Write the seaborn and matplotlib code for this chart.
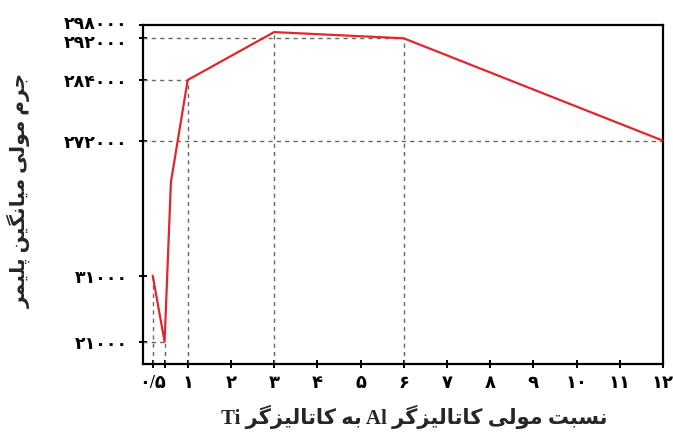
import numpy as np
import matplotlib
matplotlib.use('Agg')
import matplotlib.pyplot as plt
import matplotlib.transforms as mtransforms
import seaborn as sns

# data (Al/Ti ratio vs. average molar mass)
ratio = [0.5, 0.67, 0.76, 1, 3, 6, 12]
mass = [31000, 21000, 198000, 284000, 294800, 292000, 272000]

x_ticks = [0.5, 0.67, 1, 2, 3, 4, 5, 6, 7, 8, 9, 10, 11, 12]
x_tick_labels = ['۰/۵', '', '۱', '۲', '۳', '۴', '۵', '۶', '۷', '۸', '۹', '۱۰', '۱۱', '۱۲']
y_ticks = [21000, 31000, 272000, 284000, 292000, 298000]
y_tick_labels = ['۲۱۰۰۰', '۳۱۰۰۰', '۲۷۲۰۰۰', '۲۸۴۰۰۰', '۲۹۲۰۰۰', '۲۹۸۰۰۰']
# small vertical nudges of the crowded top labels (pixels, + is up)
y_label_nudge = [0, 0, 0, 0, -3, 3]

# which points get a dashed guide down to the x axis / across to the y axis
v_guides = [0, 1, 3, 4, 5]
h_guides = [1, 3, 5, 6]

x_label_words = ['نسبت', 'مولی', 'کاتالیزگر', 'Al', 'به', 'کاتالیزگر', 'Ti']
y_label_words = ['جرم', 'مولی', 'میانگین', 'پلیمر']

# arabic presentation forms: isolated, final, initial, medial
FORMS = {
    'ا': ('\ufe8d', '\ufe8e', None, None),
    'ب': ('\ufe8f', '\ufe90', '\ufe91', '\ufe92'),
    'پ': ('\ufb56', '\ufb57', '\ufb58', '\ufb59'),
    'ت': ('\ufe95', '\ufe96', '\ufe97', '\ufe98'),
    'ج': ('\ufe9d', '\ufe9e', '\ufe9f', '\ufea0'),
    'ر': ('\ufead', '\ufeae', None, None),
    'ز': ('\ufeaf', '\ufeb0', None, None),
    'س': ('\ufeb1', '\ufeb2', '\ufeb3', '\ufeb4'),
    'ک': ('\ufb8e', '\ufb8f', '\ufb90', '\ufb91'),
    'گ': ('\ufb92', '\ufb93', '\ufb94', '\ufb95'),
    'ل': ('\ufedd', '\ufede', '\ufedf', '\ufee0'),
    'م': ('\ufee1', '\ufee2', '\ufee3', '\ufee4'),
    'ن': ('\ufee5', '\ufee6', '\ufee7', '\ufee8'),
    'ه': ('\ufee9', '\ufeea', '\ufeeb', '\ufeec'),
    'و': ('\ufeed', '\ufeee', None, None),
    'ی': ('\ufbfc', '\ufbfd', '\ufbfe', '\ufbff'),
}


def shape(word):
    if word[0] not in FORMS:
        return word
    out = []
    for i, ch in enumerate(word):
        f = FORMS[ch]
        jp = i > 0 and FORMS[word[i - 1]][2] is not None
        jn = f[2] is not None and i + 1 < len(word)
        if jp and jn:
            out.append(f[3])
        elif jp:
            out.append(f[1])
        elif jn:
            out.append(f[2])
        else:
            out.append(f[0])
    return ''.join(reversed(out))


def visual(words):
    return ' '.join(shape(w) for w in reversed(words))


# hand drawn, broken axes: piecewise linear scales (nodes in pixels)
def piecewise(data_nodes, pix_nodes):
    d = np.asarray(data_nodes, float)
    p = np.asarray(pix_nodes, float)

    def interp(v, a, b):
        v = np.asarray(v, float)
        r = np.interp(v, a, b)
        lo = v < a[0]
        hi = v > a[-1]
        r = np.where(lo, b[0] + (v - a[0]) * (b[1] - b[0]) / (a[1] - a[0]), r)
        r = np.where(hi, b[-1] + (v - a[-1]) * (b[-1] - b[-2]) / (a[-1] - a[-2]), r)
        return r

    return (lambda v: interp(v, d, p)), (lambda v: interp(v, p, d))


sns.set_style('white')
plt.rcParams['font.family'] = ['Liberation Serif', 'DejaVu Sans']
plt.rcParams['font.weight'] = 'bold'

fig = plt.figure(figsize=(6.73, 4.39), dpi=100)
ax = fig.add_axes([143 / 673, 1 - 365 / 439, 520 / 673, 339 / 439])

ax.set_xscale('function', functions=piecewise([0, 0.5, 1, 12], [0, 9.7, 44.7, 520]))
ax.set_yscale('function', functions=piecewise(
    [17600, 21000, 31000, 272000, 284000, 292000, 298000],
    [0, 22.3, 88.3, 223.3, 284, 325.7, 339]))
ax.set_xlim(0, 12)
ax.set_ylim(17600, 298000)

guide = dict(color='#666666', linestyle=(0, (3, 3)), linewidth=1.0, zorder=1)
ax.vlines([ratio[i] for i in v_guides], 17600, [mass[i] for i in v_guides], **guide)
ax.hlines([mass[i] for i in h_guides], 0, [ratio[i] for i in h_guides], **guide)

sns.lineplot(x=ratio, y=mass, ax=ax, color='#e3262b', linewidth=1.6, sort=False, zorder=3)

ax.set_xticks(x_ticks)
ax.set_xticklabels(x_tick_labels)
ax.set_yticks(y_ticks)
ax.set_yticklabels(y_tick_labels)
ax.minorticks_off()
ax.tick_params(axis='both', left=True, bottom=True, direction='inout', length=6,
               width=1.4, color='black', labelcolor='black')
ax.tick_params(axis='y', pad=8, labelsize=12.5)
ax.tick_params(axis='x', pad=4, labelsize=13)

for lab, dy in zip(ax.get_yticklabels(), y_label_nudge):
    lab.set_transform(lab.get_transform() +
                      mtransforms.ScaledTranslation(0, dy / 100, fig.dpi_scale_trans))

for s in ax.spines.values():
    s.set_color('black')
    s.set_linewidth(1.6)

ax.set_xlabel(visual(x_label_words), fontsize=15, fontweight='bold')
ax.set_ylabel(visual(y_label_words), fontsize=14.5, fontweight='bold')
ax.xaxis.set_label_coords(0.522, -0.118)
ax.yaxis.set_label_coords(-0.215, 0.515)

fig.savefig('out.png', dpi=100)
